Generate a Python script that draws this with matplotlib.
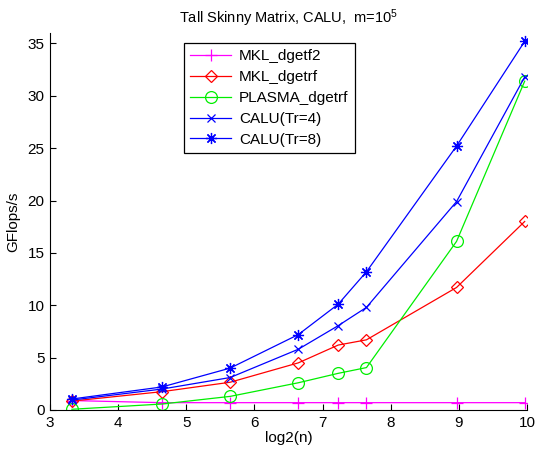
import numpy as np
import matplotlib.pyplot as plt

plt.rcParams['font.family'] = ['Liberation Sans', 'DejaVu Sans']
plt.rcParams['mathtext.fontset'] = 'custom'
plt.rcParams['mathtext.rm'] = 'Liberation Sans'
plt.rcParams['mathtext.it'] = 'Liberation Sans'

# matrix widths n, plotted as log2(n)
n = np.array([10, 25, 50, 100, 150, 200, 500, 1000])
x = np.log2(n)

mkl_dgetf2 = [0.9, 0.7, 0.7, 0.7, 0.7, 0.7, 0.7, 0.7]
mkl_dgetrf = [0.85, 1.75, 2.65, 4.5, 6.2, 6.7, 11.7, 18.0]
plasma_dgetrf = [0.07, 0.57, 1.3, 2.6, 3.5, 4.05, 16.1, 31.4]
calu_tr4 = [0.95, 2.0, 3.1, 5.8, 8.05, 9.8, 19.9, 31.8]
calu_tr8 = [1.05, 2.2, 4.0, 7.2, 10.1, 13.2, 25.2, 35.2]

fig = plt.figure(figsize=(5.38, 4.5), dpi=100)
ax = fig.add_axes([0.0929, 0.0889, 0.8867, 0.8378])

lw = 0.9
ax.plot(x, mkl_dgetf2, color='#ff00ff', marker='+', ms=8, mew=0.9, lw=lw, label='MKL_dgetf2')
ax.plot(x, mkl_dgetrf, color='#ff0000', marker='D', ms=6.5, mfc='none', mew=0.9, lw=lw, label='MKL_dgetrf')
ax.plot(x, plasma_dgetrf, color='#00ee00', marker='o', ms=8.5, mfc='none', mew=0.9, lw=lw, label='PLASMA_dgetrf')
ax.plot(x, calu_tr4, color='#0000ff', marker='x', ms=6, mew=0.9, lw=lw, label='CALU(Tr=4)')
ax.plot(x, calu_tr8, color='#0000ff', marker=(8, 2, 0), ms=8, mew=0.9, lw=lw, label='CALU(Tr=8)')

ax.set_xlim(3, 10)
ax.set_ylim(0, 36)
ax.set_xticks(range(3, 11))
ax.set_yticks(range(0, 36, 5))
ax.spines['top'].set_visible(False)
ax.spines['right'].set_visible(False)
ax.tick_params(direction='in', length=4, width=0.8, labelsize=11, pad=4)

ax.set_title('Tall Skinny Matrix, CALU,  m=10$^5$', fontsize=10.5, pad=7)
ax.set_xlabel('log2(n)', fontsize=11, labelpad=1)
ax.set_ylabel('GFlops/s', fontsize=11, labelpad=5)

leg = ax.legend(loc='upper left', bbox_to_anchor=(0.281, 0.973), fontsize=11,
                fancybox=False, edgecolor='black', framealpha=1, borderaxespad=0,
                handlelength=2.7, borderpad=0.4, labelspacing=0.45, handletextpad=0.5)
leg.get_frame().set_linewidth(0.9)

fig.savefig('out.png', dpi=100)
